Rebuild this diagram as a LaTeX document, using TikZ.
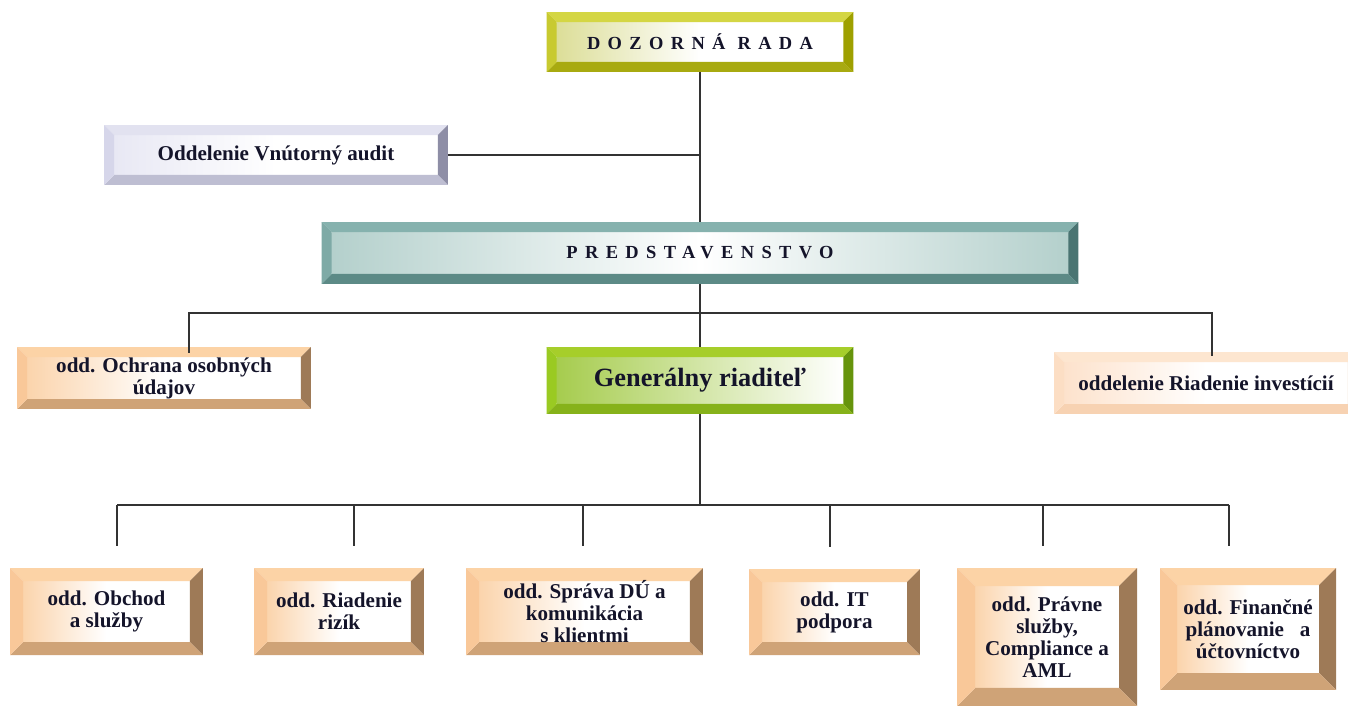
\documentclass[tikz,border=0pt]{standalone}
\usepackage{fontspec}
\setmainfont{Liberation Serif}
\usetikzlibrary{calc}
\definecolor{cline}{HTML}{333333}
\definecolor{ctext}{HTML}{14142A}
% yellow
\definecolor{ytop}{HTML}{D4D644}
\definecolor{yleft}{HTML}{C8CA30}
\definecolor{yright}{HTML}{9EA000}
\definecolor{ybot}{HTML}{A8AA10}
\definecolor{yin}{HTML}{DCDE98}
% lavender
\definecolor{ltop}{HTML}{E2E2F0}
\definecolor{lleft}{HTML}{D6D6EA}
\definecolor{lright}{HTML}{8E8EA6}
\definecolor{lbot}{HTML}{BEBED2}
\definecolor{lin}{HTML}{E8E8F4}
% teal
\definecolor{ttop}{HTML}{86B2AE}
\definecolor{tleft}{HTML}{7EAAA6}
\definecolor{tright}{HTML}{4A7472}
\definecolor{tbot}{HTML}{5C8A86}
\definecolor{tin}{HTML}{B4D0CC}
% green
\definecolor{gtop}{HTML}{A6CE2A}
\definecolor{gleft}{HTML}{9ACA22}
\definecolor{gright}{HTML}{66940C}
\definecolor{gbot}{HTML}{86B21A}
\definecolor{gin}{HTML}{A6CC4E}
% peach
\definecolor{ptop}{HTML}{FCD3A6}
\definecolor{pleft}{HTML}{F9C899}
\definecolor{pright}{HTML}{9E7A57}
\definecolor{pbot}{HTML}{CFA377}
\definecolor{pin}{HTML}{FBD4AC}
% light peach
\definecolor{qtop}{HTML}{FDE6D0}
\definecolor{qleft}{HTML}{FCDEC4}
\definecolor{qright}{HTML}{E4C2A2}
\definecolor{qbot}{HTML}{F7D2B2}
\definecolor{qin}{HTML}{FDE2CC}
\tikzset{
  frame/.style n args={3}{
    fill=white, inner sep=0pt, align=center, text=ctext,
    font=\bfseries\fontsize{12}{12.5}\selectfont,
    path picture={
      \path (path picture bounding box.north west) coordinate (fnw)
            (path picture bounding box.north east) coordinate (fne)
            (path picture bounding box.south east) coordinate (fse)
            (path picture bounding box.south west) coordinate (fsw);
      \path ($(fnw)+(#2,-#2)$) coordinate (inw) ($(fne)+(-#2,-#2)$) coordinate (ine)
            ($(fse)+(-#2,#2)$) coordinate (ise) ($(fsw)+(#2,#2)$) coordinate (isw);
      \shade[#3] (inw) rectangle (ise);
      \fill[#1top] (fnw) -- (fne) -- (ine) -- (inw) -- cycle;
      \fill[#1right] (fne) -- (fse) -- (ise) -- (ine) -- cycle;
      \fill[#1bot] (fse) -- (fsw) -- (isw) -- (ise) -- cycle;
      \fill[#1left] (fsw) -- (fnw) -- (inw) -- (isw) -- cycle;
    }},
  fade/.style={left color=#1, right color=white, middle color=white},
  wire/.style={draw=cline, line width=0.8pt},
  spaced/.style={font=\bfseries\fontsize{10.5}{12}\selectfont\addfontfeatures{LetterSpace=40}},
}

\begin{document}
\begin{tikzpicture}[x=0.02cm, y=-0.02cm]
  \useasboundingbox (0,0) rectangle (1348,706);
  % top levels
  \node[frame={y}{0.2cm}{fade=yin}, spaced,
        minimum width=6.14cm, minimum height=1.2cm] (dozor) at (700,42) {DOZORNÁ RADA};
  \node[frame={l}{0.2cm}{fade=lin},
        minimum width=6.88cm, minimum height=1.2cm] (audit) at (276,155) {Oddelenie Vnútorný audit};
  \node[frame={t}{0.2cm}{left color=tin, right color=tin, middle color=white}, spaced,
        minimum width=15.14cm, minimum height=1.24cm] (pred) at (700,253) {PREDSTAVENSTVO};
  \node[frame={p}{0.2cm}{fade=pin},
        minimum width=5.88cm, minimum height=1.24cm] (ochrana) at (164,378) {odd. Ochrana osobných\\údajov};
  \node[frame={g}{0.2cm}{left color=gin, right color=white}, font=\bfseries\fontsize{15}{17}\selectfont,
        minimum width=6.14cm, minimum height=1.34cm] (gen) at (700,380.5) {Generálny riaditeľ};
  \node[frame={q}{0.2cm}{fade=qin},
        minimum width=6.08cm, minimum height=1.24cm] (invest) at (1206,383) {oddelenie Riadenie investícií};
  % departments
  \node[frame={p}{0.26cm}{fade=pin},
        minimum width=3.86cm, minimum height=1.74cm] (obchod) at (106.5,611.5) {odd. Obchod\\a služby};
  \node[frame={p}{0.26cm}{fade=pin},
        minimum width=3.4cm, minimum height=1.74cm] (rizik) at (339,611.5) {odd. Riadenie\\rizík};
  \node[frame={p}{0.26cm}{fade=pin},
        minimum width=4.74cm, minimum height=1.74cm] (sprava) at (584.5,611.5) {odd. Správa DÚ a\\komunikácia\\s klientmi};
  \node[frame={p}{0.26cm}{fade=pin},
        minimum width=3.42cm, minimum height=1.72cm] (it) at (834.5,612) {odd. IT\\podpora};
  \node[frame={p}{0.36cm}{fade=pin},
        minimum width=3.6cm, minimum height=2.76cm] (pravne) at (1047,637) {odd. Právne\\služby,\\Compliance a\\AML};
  \node[frame={p}{0.34cm}{fade=pin},
        minimum width=3.52cm, minimum height=2.44cm] (financ) at (1248,629) {odd. Finančné\\plánovanie\ \ \ a\\účtovníctvo};
  % connectors
  \draw[wire] (dozor.south) -- (pred.north);
  \draw[wire] (audit.east) -- (audit.east -| dozor.south);
  \draw[wire] (pred.south) -- (gen.north);
  \coordinate (topbus) at (700,313);
  \draw[wire] ([xshift=0.5cm, yshift=-0.12cm]ochrana.north) |- (topbus)
              -| ([xshift=0.12cm, yshift=-0.08cm]invest.north);
  \coordinate (lowbus) at (700,505);
  \draw[wire] (gen.south) -- (lowbus);
  \foreach \n/\d in {obchod/0.21, rizik/0.3, sprava/-0.03, it/-0.09, pravne/-0.08, financ/-0.38}
    \draw[wire] ([xshift=\d cm, yshift=0.44cm]\n.north) coordinate (t\n) -- (t\n |- lowbus);
  \draw[wire] (tobchod |- lowbus) -- (tfinanc |- lowbus);
\end{tikzpicture}
\end{document}
